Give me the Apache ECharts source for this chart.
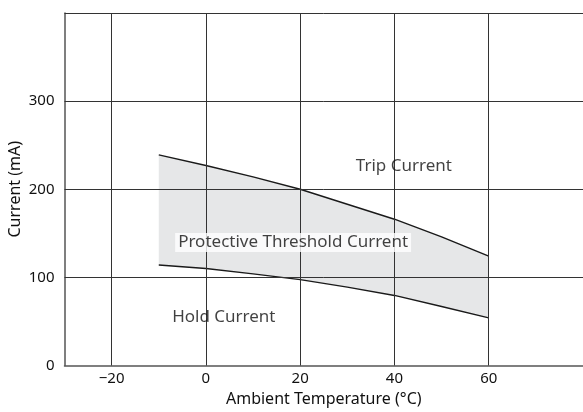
<!DOCTYPE html>
<html><head><meta charset="utf-8">
<script src="https://cdn.jsdelivr.net/npm/echarts@6/dist/echarts.min.js"></script>
<style>html,body{margin:0;padding:0;background:#fff}#c{width:583px;height:412px}</style>
</head><body><div id="c"></div>
<script>
const temps = [-10, 0, 10, 20, 30, 40, 50, 60];
const tripCurrent = [239, 227, 214, 200, 183, 166, 146, 124];
const holdCurrent = [114, 110, 104, 97.5, 89, 79.5, 67, 54];
const xTicks = [-20, 0, 20, 40, 60];
const yTicks = [100, 200, 300, 400];
const regionLabels = [
  {text: 'Trip Current', x: 42, y: 226},
  {text: 'Protective Threshold Current', x: 18.5, y: 139.5, bg: true},
  {text: 'Hold Current', x: 3.8, y: 54.5}
];

const FONT = 'Noto Sans';
const chart = echarts.init(document.getElementById('c'));
const lineCol = '#1a1a1a';
const gridCol = '#333';
const txt = '#111';

chart.setOption({
  animation: false,
  textStyle: {fontFamily: FONT},
  grid: {left: 64.5, right: 0, top: 13, bottom: 46.5, outerBoundsMode: 'none', containLabel: false},
  xAxis: {
    type: 'value', min: -30, max: 80,
    name: 'Ambient Temperature (°C)', nameLocation: 'middle', nameGap: 26, nameMoveOverlap: false,
    nameTextStyle: {fontSize: 16, color: txt, fontFamily: FONT},
    axisLine: {show: true, onZero: false, lineStyle: {color: '#555', width: 1.5}},
    axisTick: {show: false},
    splitLine: {show: false},
    axisLabel: {customValues: xTicks, fontSize: 15, color: txt, margin: 6,
      formatter: v => v < 0 ? '\u2212' + Math.abs(v) : String(v)}
  },
  yAxis: {
    type: 'value', min: 0, max: 400, interval: 100,
    name: 'Current (mA)', nameLocation: 'middle', nameGap: 41, nameMoveOverlap: false,
    nameTextStyle: {fontSize: 16, color: txt, fontFamily: FONT},
    axisLine: {show: true, onZero: false, lineStyle: {color: '#555', width: 1.5}},
    axisTick: {show: false},
    splitLine: {show: false},
    axisLabel: {fontSize: 15, color: txt, margin: 10,
      formatter: v => v === 400 ? '' : String(v)}
  },
  series: [
    {
      type: 'custom', z: 1, silent: true,
      renderItem: (params, api) => {
        const pts = temps.map((t, i) => api.coord([t, tripCurrent[i]]))
          .concat(temps.map((t, i) => api.coord([t, holdCurrent[i]])).reverse());
        return {type: 'polygon', shape: {points: pts}, style: {fill: '#e6e7e8'}};
      },
      data: [0]
    },
    {
      type: 'line', symbol: 'none', z: 3,
      data: temps.map((t, i) => [t, holdCurrent[i]]),
      lineStyle: {color: lineCol, width: 1.4}
    },
    {
      type: 'line', symbol: 'none', z: 3,
      data: temps.map((t, i) => [t, tripCurrent[i]]),
      lineStyle: {color: lineCol, width: 1.4}
    },
    {
      type: 'line', data: [], z: 2,
      markLine: {
        silent: true, symbol: 'none', animation: false,
        label: {show: false},
        lineStyle: {color: gridCol, width: 1, type: 'solid'},
        data: xTicks.map(v => ({xAxis: v})).concat(yTicks.map(v => ({yAxis: v})))
      }
    },
    {
      type: 'scatter', symbolSize: 0, z: 6,
      data: regionLabels.map(l => ({
        value: [l.x, l.y],
        label: {
          show: true, position: 'inside', formatter: l.text,
          fontSize: 17, color: txt, fontFamily: FONT,
          backgroundColor: l.bg ? '#fff' : 'transparent',
          padding: l.bg ? [1, 3, 1, 3] : 0
        }
      }))
    }
  ]
});
</script></body></html>
